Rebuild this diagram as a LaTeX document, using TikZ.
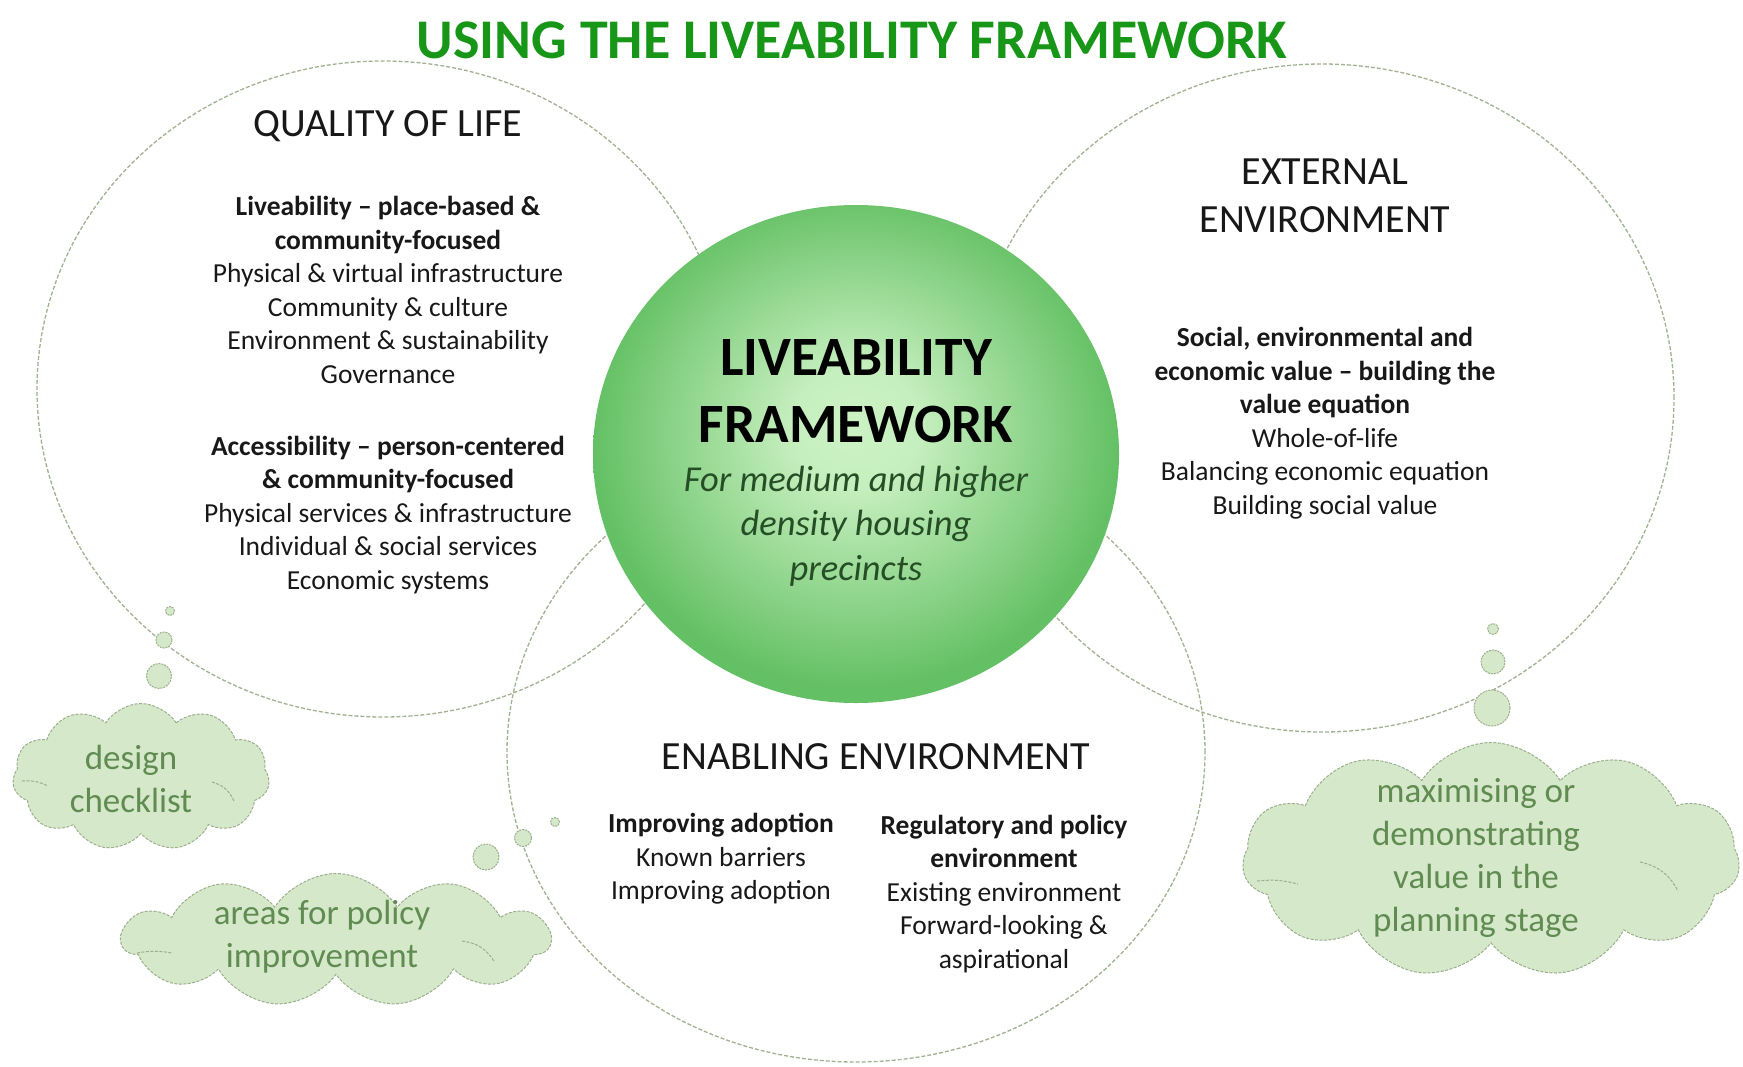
\documentclass[tikz,border=0pt]{standalone}
\usepackage{fontspec}
\setmainfont{Carlito}
\usetikzlibrary{shapes.geometric,shapes.symbols}

\definecolor{titlegreen}{RGB}{24,150,24}
\definecolor{ringline}{RGB}{160,178,146}
\definecolor{cloudfill}{RGB}{214,232,202}
\definecolor{cloudline}{RGB}{154,176,140}
\definecolor{cloudtext}{RGB}{96,140,82}
\definecolor{hubtext}{RGB}{38,78,38}
\definecolor{bodytext}{RGB}{24,24,24}
\definecolor{hubedge}{RGB}{100,192,100}
\definecolor{hubcore}{RGB}{204,242,196}

% light core fading to a deeper green rim
\pgfdeclareradialshading{hubshade}{\pgfpoint{0bp}{3bp}}{%
  color(0bp)=(hubcore); color(6bp)=(hubcore!94!hubedge);
  color(25bp)=(hubedge); color(50bp)=(hubedge)}

\tikzset{
  ring/.style={ellipse, draw=ringline, line width=1.3pt,
    dash pattern=on 4pt off 2pt, inner sep=0pt},
  hub/.style={ellipse, shading=hubshade, inner sep=0pt},
  thought/.style={cloud, cloud puffs=11, cloud puff arc=115, cloud ignores aspect,
    draw=cloudline, fill=cloudfill, line width=1pt,
    dash pattern=on 3pt off 1.5pt, inner sep=0pt},
  fold/.style={draw=cloudline, line width=1pt, dash pattern=on 3pt off 1.5pt},
  bubble/.style={circle, draw=cloudline, fill=cloudfill, line width=1pt,
    dash pattern=on 2pt off 1pt, inner sep=0pt},
  body/.style={align=center, text=bodytext, inner sep=0pt,
    font=\fontsize{27.5}{33.5}\selectfont},
  heading/.style={align=center, text=bodytext, inner sep=0pt,
    font=\fontsize{40}{48}\selectfont},
  cloudlabel/.style={align=center, text=cloudtext, inner sep=0pt,
    font=\fontsize{35}{43}\selectfont},
}

\begin{document}
\begin{tikzpicture}[x=1pt, y=-1pt]
\useasboundingbox (0,0) rectangle (1743,1066);
\fill[white] (0,0) rectangle (1743,1066);

% the three overlapping rings
\node (qol)  [ring, minimum width=692pt, minimum height=656pt] at (383,389) {};
\node (ext)  [ring, minimum width=704pt, minimum height=668pt] at (1322,398) {};
\node (enab) [ring, minimum width=698pt, minimum height=620pt] at (856,752) {};

% central hub
\node (hub) [hub, minimum width=526pt, minimum height=498pt] at (856,454) {};

% title
\node (title) [text=titlegreen, inner sep=0pt,
  font=\fontsize{56}{60}\selectfont\bfseries] at (852,40)
  {USING THE LIVEABILITY FRAMEWORK};

% quality of life
\node (qolhead) [heading] at (388,126) {QUALITY OF LIFE};
\node (qolA) [body] at (388,290) {%
  \textbf{Liveability – place-based \&}\\
  \textbf{community-focused}\\
  Physical \& virtual infrastructure\\
  Community \& culture\\
  Environment \& sustainability\\
  Governance};
\node (qolB) [body] at (388,515) {%
  \textbf{Accessibility – person-centered}\\
  \textbf{\& community-focused}\\
  Physical services \& infrastructure\\
  Individual \& social services\\
  Economic systems};

% external environment
\node (exthead) [heading] at (1325,196) {EXTERNAL\\ENVIRONMENT};
\node (extA) [body] at (1325,423) {%
  \textbf{Social, environmental and}\\
  \textbf{economic value – building the}\\
  \textbf{value equation}\\
  Whole-of-life\\
  Balancing economic equation\\
  Building social value};

% hub text
\node (hubhead) [align=center, inner sep=0pt, text=black,
  font=\fontsize{55.5}{67}\selectfont\bfseries] at (856,391)
  {LIVEABILITY\\FRAMEWORK};
\node (hubsub) [align=center, inner sep=0pt, text=hubtext,
  font=\fontsize{36.5}{44.5}\selectfont\itshape] at (856,526)
  {For medium and higher\\density housing\\precincts};

% enabling environment
\node (enabhead) [heading] at (876,757) {ENABLING ENVIRONMENT};
\node (enabA) [body] at (721,859) {%
  \textbf{Improving adoption}\\
  Known barriers\\
  Improving adoption};
\node (enabB) [body] at (1004,894) {%
  \textbf{Regulatory and policy}\\
  \textbf{environment}\\
  Existing environment\\
  Forward-looking \&\\
  aspirational};

% thought clouds with their trailing bubbles
\node (bubA1) [bubble, minimum size=9pt]  at (170,611) {};
\node (bubA2) [bubble, minimum size=16pt] at (164,640) {};
\node (bubA3) [bubble, minimum size=25pt] at (159,676) {};
\node (cloudA) [thought, minimum width=257pt, minimum height=147pt] at (141,777) {};
\draw[fold] (22,781) to[bend left=15] (48,786);
\draw[fold] (212,782) to[bend left=25] (234,801);
\node (cloudAtext) [cloudlabel] at (131,779) {design\\checklist};

\node (bubB1) [bubble, minimum size=9pt]  at (555,822) {};
\node (bubB2) [bubble, minimum size=17pt] at (523,838) {};
\node (bubB3) [bubble, minimum size=26pt] at (486,857) {};
\node (cloudB) [thought, minimum width=428pt, minimum height=133pt] at (336,940) {};
\draw[fold] (137,953) to[bend left=10] (172,953);
\draw[fold] (462,941) to[bend left=25] (494,961);
\node (cloudBtext) [cloudlabel] at (322,937) {areas for policy\\improvement};

\node (bubC1) [bubble, minimum size=11pt] at (1493,629) {};
\node (bubC2) [bubble, minimum size=24pt] at (1493,662) {};
\node (bubC3) [bubble, minimum size=36pt] at (1492,708) {};
\node (cloudC) [thought, minimum width=497pt, minimum height=235pt] at (1491,860) {};
\draw[fold] (1257,881) to[bend left=10] (1298,884);
\draw[fold] (1640,862) to[bend left=25] (1678,891);
\node (cloudCtext) [cloudlabel] at (1476,858)
  {maximising or\\demonstrating\\value in the\\planning stage};
\end{tikzpicture}
\end{document}
